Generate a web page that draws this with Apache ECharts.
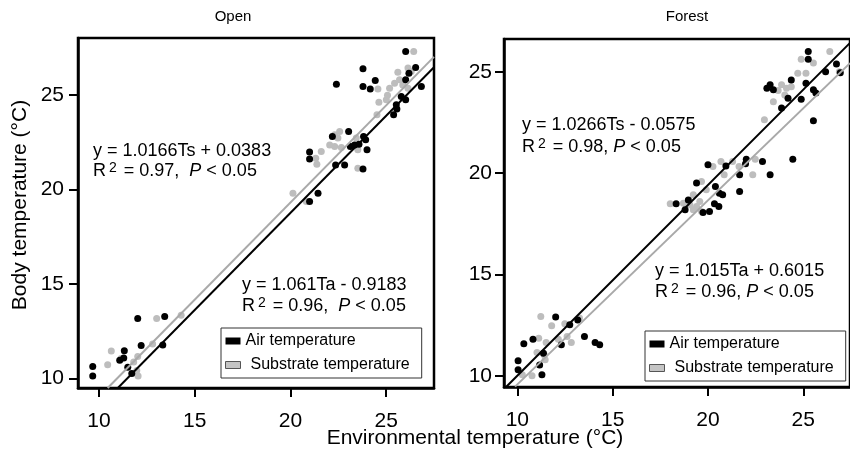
<!DOCTYPE html>
<html>
<head>
<meta charset="utf-8">
<script src="https://cdn.jsdelivr.net/npm/echarts@6/dist/echarts.min.js"></script>
<style>
html, body { margin: 0; padding: 0; background: #fff; }
#main { width: 850px; height: 456px; }
</style>
</head>
<body>
<div id="main"></div>
<script>
// body temperature vs environmental temperature, two habitats

var FONT = '"Liberation Sans", Arial, sans-serif';
var tickValues = [10, 15, 20, 25];

// Open habitat: [environmental temp, body temp]
var openAir = [
    [26.02, 27.29], [23.79, 26.37], [26.54, 26.44], [22.40, 25.56], [23.79, 25.44], [24.17, 25.31],
    [24.43, 25.76], [26.02, 25.79], [26.84, 25.44], [26.19, 26.14], [25.79, 24.91], [26.02, 24.73],
    [25.53, 24.47], [25.39, 23.94], [25.56, 24.25], [23.04, 23.06], [22.19, 22.80], [23.82, 22.80],
    [23.93, 22.62], [23.13, 22.27], [23.35, 22.35], [23.58, 22.39], [24.00, 22.09], [21.00, 21.97],
    [21.00, 21.61], [22.36, 21.29], [22.83, 21.29], [23.79, 21.08], [21.44, 19.80], [21.00, 19.36],
    [12.02, 13.18], [13.43, 13.28], [12.20, 11.74], [13.33, 11.77], [11.32, 11.47], [11.08, 10.97],
    [11.29, 11.08], [9.67, 10.63], [9.67, 10.13], [11.50, 10.60], [11.71, 10.26]
];
var openSubstrate = [
    [26.44, 27.29], [25.61, 26.19], [26.14, 26.41], [26.31, 26.23], [24.57, 25.31], [25.18, 25.35],
    [25.44, 25.61], [25.70, 25.79], [25.87, 25.52], [26.14, 25.35], [24.62, 24.61], [25.01, 24.73],
    [25.07, 24.98], [24.52, 23.94], [22.57, 23.06], [22.31, 22.88], [22.48, 22.71], [22.05, 22.35],
    [22.31, 22.27], [22.66, 22.21], [23.44, 22.71], [21.61, 22.00], [21.32, 21.65], [21.38, 21.33],
    [23.52, 22.09], [23.52, 21.12], [20.13, 19.80], [20.83, 19.36],
    [13.01, 13.18], [14.29, 13.35], [10.64, 11.45], [10.45, 10.73], [11.15, 11.06], [12.80, 11.82],
    [11.97, 10.42], [12.04, 10.13], [12.02, 11.16], [11.81, 10.87]
];

// Forest habitat
var forestAir = [
    [25.26, 26.00], [25.26, 25.62], [26.74, 25.39], [26.94, 24.96], [26.17, 25.01], [23.26, 24.36],
    [23.09, 24.19], [23.43, 24.11], [24.37, 24.60], [25.14, 24.44], [25.53, 24.11], [25.66, 23.95],
    [24.20, 23.70], [24.89, 23.65], [23.86, 23.21], [25.53, 22.59], [24.45, 20.69], [22.01, 20.69],
    [21.97, 20.46], [22.86, 20.57], [20.00, 20.41], [20.94, 20.36], [21.66, 19.92], [23.26, 19.92],
    [20.39, 19.34], [20.60, 19.01], [20.77, 18.93], [21.66, 19.09], [18.33, 18.49], [18.97, 18.68],
    [20.34, 18.49], [20.57, 18.35], [19.74, 18.06], [20.08, 18.11], [19.40, 19.51], [18.80, 18.19],
    [12.01, 12.90], [10.34, 11.58], [10.82, 11.81], [10.04, 10.75], [10.04, 10.30], [11.17, 10.54],
    [11.29, 10.05], [11.37, 11.12], [12.31, 11.53], [12.75, 12.52], [13.17, 12.76], [13.52, 11.94],
    [14.08, 11.64], [14.32, 11.53]
];
var forestSubstrate = [
    [24.89, 25.62], [25.53, 25.43], [26.39, 26.00], [26.89, 25.01], [24.71, 24.93], [25.14, 24.93],
    [23.86, 24.36], [24.12, 24.19], [24.37, 24.27], [23.68, 24.08], [23.43, 23.53], [24.03, 23.86],
    [22.96, 22.63], [22.48, 20.69], [21.29, 20.57], [21.63, 20.33], [20.68, 20.57], [20.26, 20.33],
    [20.85, 19.92], [22.35, 19.92], [19.66, 19.59], [19.91, 19.18], [19.23, 18.93], [18.02, 18.49],
    [18.71, 18.52], [19.40, 18.35], [19.57, 18.60], [19.23, 18.19], [19.66, 18.11], [19.05, 18.44],
    [11.23, 12.93], [11.80, 12.47], [12.49, 12.57], [11.12, 11.86], [11.51, 11.64], [12.15, 11.81],
    [12.61, 11.94], [12.83, 11.64], [11.03, 11.15], [11.41, 11.04], [11.46, 10.79], [10.77, 10.00],
    [10.26, 10.05], [13.26, 12.85]
];

// fitted lines as drawn (end points)
var openAirFit = [[10.98, 9.5], [27.5, 26.45]];
var openSubstrateFit = [[10.45, 9.5], [27.5, 27.0]];
var forestAirFit = [[9.42, 9.46], [27.45, 26.43]];
var forestSubstrateFit = [[9.88, 9.47], [27.45, 25.43]];

var panelTitles = ['Open', 'Forest'];
var openEquations = ['y = 1.0166Ts + 0.0383', '0.97', 'y = 1.061Ta - 0.9183', '0.96'];
var forestEquations = ['y = 1.0266Ts - 0.0575', '0.98', 'y = 1.015Ta + 0.6015', '0.96'];

var BLACK = '#000';
var GRAY = '#bdbdbd';

var dom = document.getElementById('main');
var myChart = echarts.init(dom, null, { renderer: 'canvas' });

function makeX(gridIndex, min, max) {
    return {
        type: 'value', gridIndex: gridIndex, min: min, max: max,
        splitLine: { show: false },
        axisLine: { onZero: false, lineStyle: { color: BLACK, width: 2.5 } },
        axisTick: { customValues: tickValues, length: 9, lineStyle: { color: BLACK, width: 2 } },
        axisLabel: { customValues: tickValues, margin: 23, color: BLACK, fontSize: 21, fontFamily: FONT }
    };
}
function makeY(gridIndex, min, max, margin) {
    return {
        type: 'value', gridIndex: gridIndex, min: min, max: max,
        splitLine: { show: false },
        axisLine: { onZero: false, lineStyle: { color: BLACK, width: 2.5 } },
        axisTick: { customValues: tickValues, length: 9, lineStyle: { color: BLACK, width: 2 } },
        axisLabel: { customValues: tickValues, margin: margin, color: BLACK, fontSize: 21, fontFamily: FONT }
    };
}
function scatter(name, idx, data, color) {
    return {
        name: name, type: 'scatter', xAxisIndex: idx, yAxisIndex: idx,
        data: data, symbolSize: 7, itemStyle: { color: color, opacity: 1 }
    };
}
function fitLine(name, idx, data, color) {
    return {
        name: name, type: 'line', xAxisIndex: idx, yAxisIndex: idx,
        data: data, symbol: 'none', lineStyle: { color: color, width: 2 }
    };
}
function legendFor(left, top) {
    return {
        left: left, top: top, orient: 'vertical', selectedMode: false,
        padding: [5, 12, 5, 4], itemGap: 8, itemWidth: 15, itemHeight: 7,
        borderColor: '#333', borderWidth: 1, backgroundColor: '#fff',
        textStyle: { fontSize: 16, fontFamily: FONT, color: BLACK },
        data: [
            { name: 'Air temperature', icon: 'rect', itemStyle: { color: BLACK } },
            { name: 'Substrate temperature', icon: 'rect',
              itemStyle: { color: '#c4c4c4', borderColor: '#555', borderWidth: 1 },
              textStyle: { padding: [0, 0, 0, 5] } }
        ]
    };
}
function label(x, y, text, size) {
    return {
        type: 'text', x: x, y: y,
        style: { text: text, font: size + 'px ' + FONT, fill: BLACK, align: 'left', verticalAlign: 'middle' }
    };
}
function rLabel(x, y, r2, gap) {
    return {
        type: 'text', x: x, y: y,
        style: {
            text: '{n|R}{s|2}{n| = ' + r2 + ',' + gap + '}{i|P}{n| < 0.05}',
            fill: BLACK, align: 'left', verticalAlign: 'middle',
            rich: {
                n: { fontSize: 18, fontFamily: FONT, lineHeight: 20, fill: BLACK },
                s: { fontSize: 14, fontFamily: FONT, lineHeight: 14, verticalAlign: 'top', padding: [0, 2, 0, 3], fill: BLACK },
                i: { fontSize: 18, fontFamily: FONT, fontStyle: 'italic', lineHeight: 20, fill: BLACK }
            }
        }
    };
}

var option = {
    animation: false,
    backgroundColor: '#fff',
    grid: [
        { left: 78, top: 38, width: 356, height: 350, show: true, borderColor: BLACK, borderWidth: 2.5 },
        { left: 504, top: 39, width: 353, height: 348, show: true, borderColor: BLACK, borderWidth: 2.5 }
    ],
    xAxis: [makeX(0, 8.9, 27.5), makeX(1, 9.3, 27.45)],
    yAxis: [makeY(0, 9.5, 28, 14), makeY(1, 9.45, 26.62, 12)],
    legend: [legendFor(221, 328), legendFor(645, 331)],
    series: [
        scatter('Substrate temperature', 0, openSubstrate, GRAY),
        scatter('Air temperature', 0, openAir, BLACK),
        fitLine('Substrate fit (Open)', 0, openSubstrateFit, '#a9a9a9'),
        fitLine('Air fit (Open)', 0, openAirFit, BLACK),
        scatter('Substrate temperature', 1, forestSubstrate, GRAY),
        scatter('Air temperature', 1, forestAir, BLACK),
        fitLine('Air fit (Forest)', 1, forestAirFit, BLACK),
        fitLine('Substrate fit (Forest)', 1, forestSubstrateFit, '#a9a9a9')
    ],
    graphic: [
        { type: 'text', x: 233, y: 17, style: { text: panelTitles[0], font: '15px ' + FONT, fill: BLACK, align: 'center', verticalAlign: 'middle' } },
        { type: 'text', x: 687, y: 17, style: { text: panelTitles[1], font: '15px ' + FONT, fill: BLACK, align: 'center', verticalAlign: 'middle' } },
        { type: 'text', x: 475, y: 438, style: { text: 'Environmental temperature (°C)', font: '21px ' + FONT, fill: BLACK, align: 'center', verticalAlign: 'middle' } },
        { type: 'text', x: 20, y: 205, rotation: Math.PI / 2,
          style: { text: 'Body temperature (°C)', font: '21px ' + FONT, fill: BLACK, align: 'center', verticalAlign: 'middle' } },
        label(93, 151, openEquations[0], 18),
        rLabel(93, 171, openEquations[1], '  '),
        label(242, 285, openEquations[2], 18),
        rLabel(242, 306, openEquations[3], '  '),
        label(522, 125, forestEquations[0], 18),
        rLabel(522, 147, forestEquations[1], ' '),
        label(655, 271, forestEquations[2], 18),
        rLabel(655, 292, forestEquations[3], ' ')
    ]
};
myChart.setOption(option);
</script>
</body>
</html>
